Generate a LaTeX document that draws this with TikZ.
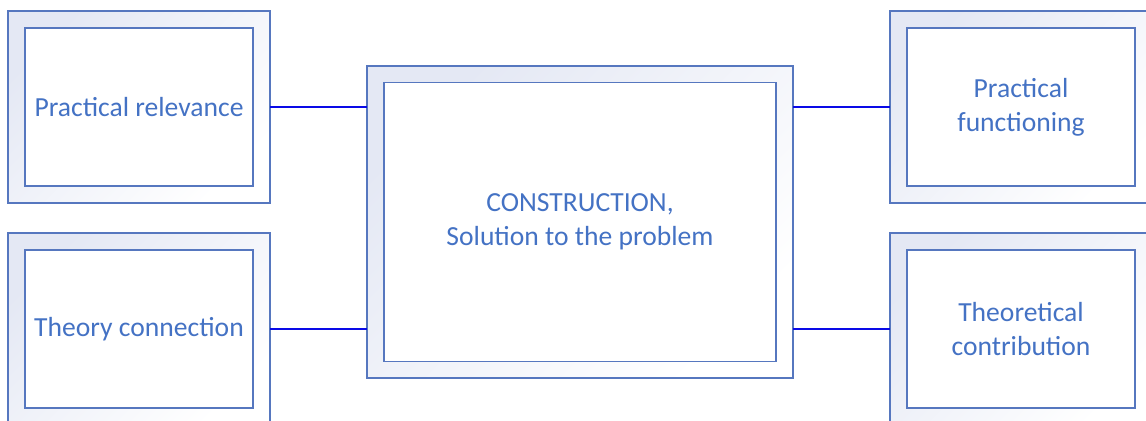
\documentclass[tikz,border=0pt]{standalone}
\usepackage{fontspec}
\setmainfont{Carlito}
\usetikzlibrary{positioning}

\definecolor{boxline}{HTML}{5677BF}
\definecolor{boxtext}{HTML}{4472C4}
\definecolor{linkblue}{HTML}{0A0AE6}
\definecolor{boxshade}{HTML}{E4E8F4}

\begin{document}
\begin{tikzpicture}[x=0.75pt, y=-0.75pt,
    frame/.style={rectangle, draw=boxline, line width=1.1pt, inner sep=0pt, outer sep=0pt,
        top color=boxshade, bottom color=white, shading angle=45},
    smallframe/.style={frame, minimum width=196.5pt, minimum height=144pt},
    bigframe/.style={frame, minimum width=319.5pt, minimum height=234pt},
    label/.style={rectangle, draw=boxline, line width=1.1pt, fill=white, text=boxtext,
        align=center, font=\fontsize{20.7}{25.5}\selectfont, inner sep=0pt},
    smalllabel/.style={label, minimum width=171pt, minimum height=118.5pt},
    biglabel/.style={label, minimum width=294pt, minimum height=209.25pt},
    link/.style={draw=linkblue, line width=1.4pt}]
\clip (0,0) rectangle (1146,421);
\fill[white] (0,0) rectangle (1146,421);

% Main nodes
\node (relevanceframe) [smallframe] at (139,107) {};
\node (relevance) [smalllabel] at (139,107) {Practical relevance};

\node (theoryframe) [smallframe] at (139,329) {};
\node (theory) [smalllabel] at (139,329) {Theory connection};

\node (constructionframe) [bigframe] at (580,222) {};
\node (construction) [biglabel] at (580,222) {CONSTRUCTION,\\ Solution to the problem};

\node (functioningframe) [smallframe] at (1021,107) {};
\node (functioning) [smalllabel] at (1021,107) {Practical\\ functioning};

\node (contributionframe) [smallframe] at (1021,329) {};
\node (contribution) [smalllabel] at (1021,329) {Theoretical\\ contribution};

% Connectors
\draw [link] (relevanceframe.east) -- (relevanceframe.east -| constructionframe.west);
\draw [link] (theoryframe.east) -- (theoryframe.east -| constructionframe.west);
\draw [link] (functioningframe.west -| constructionframe.east) -- (functioningframe.west);
\draw [link] (contributionframe.west -| constructionframe.east) -- (contributionframe.west);
\end{tikzpicture}
\end{document}
